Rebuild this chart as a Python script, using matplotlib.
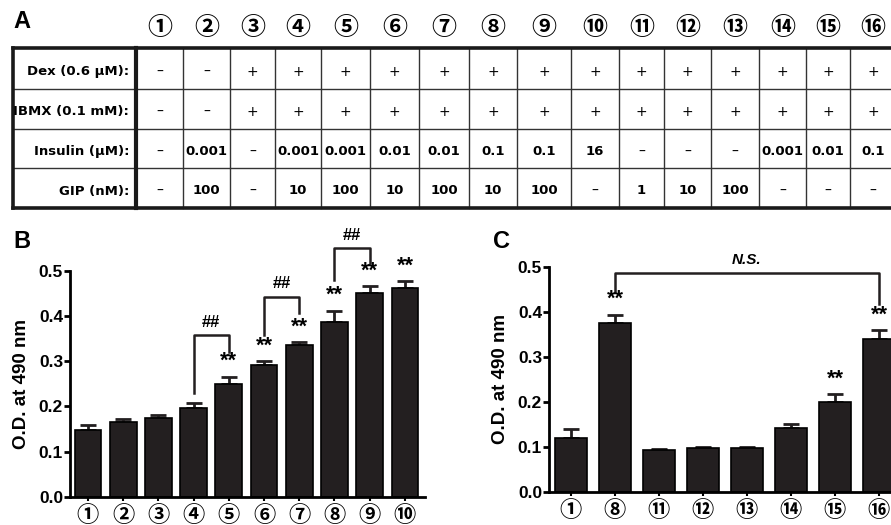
import matplotlib.pyplot as plt
import numpy as np

#==[0] Fonts
plt.rcParams['font.family'] = ['Liberation Sans', 'DejaVu Sans']
CIRC_FONT = ['Noto Sans CJK JP', 'DejaVu Sans']
TAB_FONT = ['DejaVu Sans']

#==[1] Data
circled = ['①', '②', '③', '④', '⑤', '⑥', '⑦', '⑧',
           '⑨', '⑩', '⑪', '⑫', '⑬', '⑭', '⑮', '⑯']

row_labels = ['Dex (0.6 μM):', 'IBMX (0.1 mM):', 'Insulin (μM):', 'GIP (nM):']
dex     = ['–', '–', '+', '+', '+', '+', '+', '+', '+', '+', '+', '+', '+', '+', '+', '+']
ibmx    = ['–', '–', '+', '+', '+', '+', '+', '+', '+', '+', '+', '+', '+', '+', '+', '+']
insulin = ['–', '0.001', '–', '0.001', '0.001', '0.01', '0.01', '0.1', '0.1', '16',
           '–', '–', '–', '0.001', '0.01', '0.1']
gip     = ['–', '100', '–', '10', '100', '10', '100', '10', '100', '–',
           '1', '10', '100', '–', '–', '–']

b_groups = [1, 2, 3, 4, 5, 6, 7, 8, 9, 10]
b_means = [0.148, 0.166, 0.174, 0.196, 0.249, 0.292, 0.337, 0.386, 0.452, 0.463]
b_errs = [0.011, 0.006, 0.008, 0.011, 0.017, 0.009, 0.006, 0.026, 0.014, 0.015]
b_stars = [5, 6, 7, 8, 9, 10]
b_pairs = [(4, 5), (6, 7), (8, 9)]

c_groups = [1, 8, 11, 12, 13, 14, 15, 16]
c_means = [0.121, 0.376, 0.094, 0.098, 0.098, 0.142, 0.199, 0.341]
c_errs = [0.018, 0.018, 0.002, 0.001, 0.001, 0.009, 0.019, 0.018]
c_stars = [8, 15, 16]
c_pair = (8, 16)

#==[2] Layout (pixels of the 891x525 canvas)
W, H = 891, 525
col_edges = [136, 183, 230, 275, 321, 370, 419, 469, 517, 571, 619,
             664, 711, 759, 806, 850, 896]
row_edges = [48, 89, 129, 168, 208]
tab_left = 13

fig = plt.figure(figsize=(W / 100, H / 100), dpi=100)

#==[3] Panel A: the treatment table
axT = fig.add_axes([0, 0, 1, 1])
axT.set_xlim(0, W)
axT.set_ylim(H, 0)
axT.axis('off')

for y in row_edges[1:-1]:
    axT.plot([tab_left, W + 10], [y, y], color='#333333', lw=1.0, clip_on=False)
for x in col_edges[1:-1]:
    axT.plot([x, x], [row_edges[0], row_edges[-1]], color='#333333', lw=1.0)
axT.plot([tab_left, W + 10], [row_edges[0], row_edges[0]], color='#1a1a1a', lw=2.6)
axT.plot([tab_left, W + 10], [row_edges[-1], row_edges[-1]], color='#1a1a1a', lw=2.6)
axT.plot([tab_left, tab_left], [row_edges[0], row_edges[-1]], color='#1a1a1a', lw=2.6)
axT.plot([col_edges[0], col_edges[0]], [row_edges[0], row_edges[-1]],
         color='#1a1a1a', lw=3.0)

rows = [dex, ibmx, insulin, gip]
for r, (lab, vals) in enumerate(zip(row_labels, rows)):
    yc = (row_edges[r] + row_edges[r + 1]) / 2 + 3
    axT.text(129, yc, lab, ha='right', va='center', fontsize=9.5,
             fontweight='bold', family=TAB_FONT)
    for c, v in enumerate(vals):
        xc = (col_edges[c] + col_edges[c + 1]) / 2
        bold = v not in ('+', '–')
        axT.text(xc, yc, v, ha='center', va='center',
                 fontsize=9.5 if bold else 10,
                 fontweight='bold' if bold else 'normal', family=TAB_FONT)

for c, lab in enumerate(circled):
    xc = (col_edges[c] + col_edges[c + 1]) / 2
    axT.text(xc, 28, lab, ha='center', va='center', fontsize=18,
             fontweight='bold', family=CIRC_FONT)

fig.text(13 / W, 1 - 22 / H, 'A', fontsize=17, fontweight='bold', va='center')
fig.text(13 / W, 1 - 241 / H, 'B', fontsize=17, fontweight='bold', va='center')
fig.text(493 / W, 1 - 241 / H, 'C', fontsize=17, fontweight='bold', va='center')


#==[4] Bar panels
def bar_panel(ax, groups, means, errs, stars, width):
    xs = np.arange(len(groups))
    ax.bar(xs, means, width=width, color='#231f20', edgecolor='black', lw=1.2, zorder=2)
    ax.errorbar(xs, means, yerr=[np.zeros(len(errs)), errs], fmt='none',
                ecolor='#231f20', elinewidth=2.0, capsize=5.5, capthick=2.0, zorder=1)
    for g in stars:
        i = groups.index(g)
        ax.text(xs[i], means[i] + errs[i] + 0.01, '**', ha='center', va='bottom',
                fontsize=15.5, fontweight='bold', clip_on=False)
    ax.set_ylim(0, 0.5)
    ax.set_yticks([0.0, 0.1, 0.2, 0.3, 0.4, 0.5])
    ax.set_yticklabels(['0.0', '0.1', '0.2', '0.3', '0.4', '0.5'],
                       fontsize=12.5, fontweight='bold')
    ax.set_xticks(xs)
    ax.set_xticklabels([circled[g - 1] for g in groups], fontsize=16,
                       fontweight='bold', family=CIRC_FONT)
    ax.set_ylabel('O.D. at 490 nm', fontsize=13.5, fontweight='bold', labelpad=6)
    for s in ('top', 'right'):
        ax.spines[s].set_visible(False)
    for s in ('left', 'bottom'):
        ax.spines[s].set_linewidth(2.0)
    ax.tick_params(axis='y', length=4, width=2.0, pad=1)
    ax.tick_params(axis='x', length=3, width=1.5, pad=2)
    return xs


def bracket(ax, x1, x2, top, left_low, right_low, label, fs, style='normal'):
    ax.plot([x1, x1, x2, x2], [left_low, top, top, right_low], color='#231f20',
            lw=1.8, clip_on=False)
    ax.text((x1 + x2) / 2, top + 0.012, label, ha='center', va='bottom',
            fontsize=fs, fontweight='bold', style=style, clip_on=False)


# Panel B
axB = fig.add_axes([70 / W, 1 - 496.7 / H, 355 / W, 225.7 / H])
xsB = bar_panel(axB, b_groups, b_means, b_errs, b_stars, 0.76)
axB.set_xlim(-0.51, len(b_groups) - 1 + 0.57)
b_tops = [(0.358, 0.229, 0.321), (0.443, 0.358, 0.408), (0.550, 0.480, 0.517)]
for (g1, g2), (top, lo1, lo2) in zip(b_pairs, b_tops):
    bracket(axB, b_groups.index(g1), b_groups.index(g2), top, lo1, lo2, '##', 12)

# Panel C
axC = fig.add_axes([549 / W, 1 - 492 / H, 352 / W, 225 / H])
xsC = bar_panel(axC, c_groups, c_means, c_errs, c_stars, 0.73)
axC.set_xlim(-0.5, len(c_groups) - 1 + 0.5)
bracket(axC, c_groups.index(c_pair[0]), c_groups.index(c_pair[1]),
        0.487, 0.447, 0.418, 'N.S.', 11, style='italic')

fig.savefig('out.png', dpi=100)
